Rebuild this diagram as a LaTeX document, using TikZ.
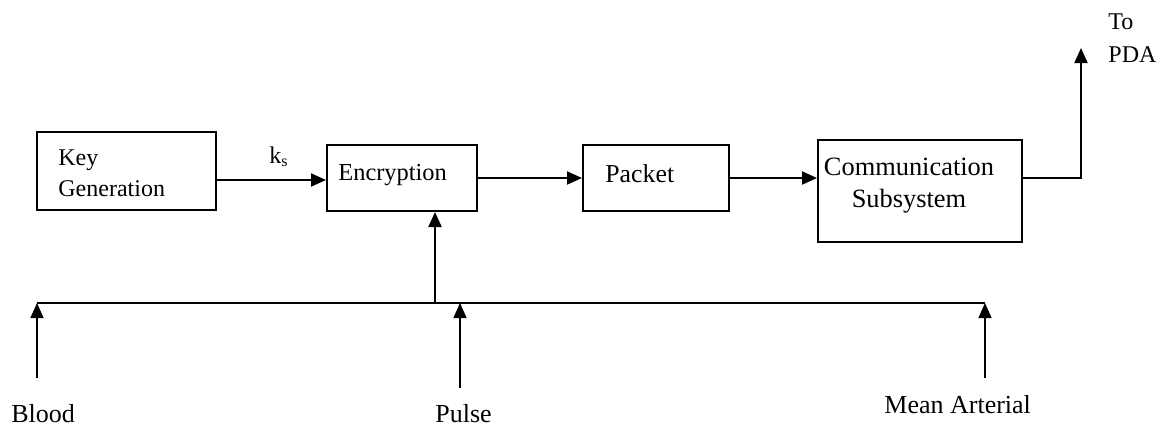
\documentclass[tikz,border=0pt]{standalone}
\usepackage{fontspec}
\setmainfont{Liberation Serif}
\usetikzlibrary{arrows.meta}
\begin{document}
\begin{tikzpicture}[x=0.5pt,y=-0.5pt,
  box/.style={draw,line width=1pt,rectangle,inner sep=0pt},
  lbl/.style={inner sep=0pt,anchor=base west,align=left},
  arr/.style={line width=1pt,-{Triangle[length=7.5pt,width=6.5pt]}},
  thin arr/.style={line width=0.7pt,-{Triangle[length=7.5pt,width=6.5pt]}},
  wire/.style={line width=1pt}]
\useasboundingbox (0,0) rectangle (1163,425);
% boxes
\node[box,minimum width=89.5pt,minimum height=39pt] (kg) at (126.5,171) {};
\node[box,minimum width=75pt,minimum height=33pt] (enc) at (402,178) {};
\node[box,minimum width=73pt,minimum height=33pt] (pkt) at (656,178) {};
\node[box,minimum width=102pt,minimum height=51pt] (comm) at (920,191) {};
% texts (multi-line nodes: base = last line)
\node[lbl,font=\fontsize{12}{15.5}\selectfont] (kgt) at (58,196) {Key\\Generation};
\node[lbl,font=\fontsize{12.2}{14}\selectfont] (enct) at (338,180) {Encryption};
\node[lbl,font=\fontsize{12.9}{14}\selectfont] (pktt) at (605,182) {Packet};
\node[lbl,font=\fontsize{13.2}{16}\selectfont,align=center,anchor=base] (commt) at (909,207) {Communication\\Subsystem};
\node[lbl,font=\fontsize{12}{16.5}\selectfont] (pda) at (1108,62) {To\\PDA};
\node[lbl,font=\fontsize{12}{14}\selectfont] (ks) at (269,163) {k\textsubscript{s}};
\node[lbl,font=\fontsize{13}{14}\selectfont] (blood) at (11,422) {Blood};
\node[lbl,font=\fontsize{13}{14}\selectfont] (pulse) at (435,422) {Pulse};
\node[lbl,font=\fontsize{13}{14}\selectfont] (mean) at (884,413) {Mean Arterial};
% coordinates
\coordinate (out) at (1081,48);
\coordinate (busL) at (37,303);
\coordinate (busR) at (985,303);
\coordinate (busJ) at (435,303);
\coordinate (bIn) at (37,378);
\coordinate (pIn) at (460,388);
\coordinate (mIn) at (985,378);
\coordinate (bTop) at (37,303);
\coordinate (pTop) at (460,303);
\coordinate (mTop) at (985,303);
% connectors
\draw[arr] (kg.east |- 0,180) -- (enc.west |- 0,180);
\draw[arr] (enc.east) -- (pkt.west);
\draw[arr] (pkt.east) -- (pkt.east -| comm.west);
\draw[arr] (comm.east |- pkt.east) -| (out);
\draw[line width=1.3pt] (busL) -- (busR);
\draw[arr] (busJ) -- (busJ |- enc.south);
\draw[thin arr] (bIn) -- (bTop);
\draw[thin arr] (pIn) -- (pTop);
\draw[thin arr] (mIn) -- (mTop);
\end{tikzpicture}
\end{document}
